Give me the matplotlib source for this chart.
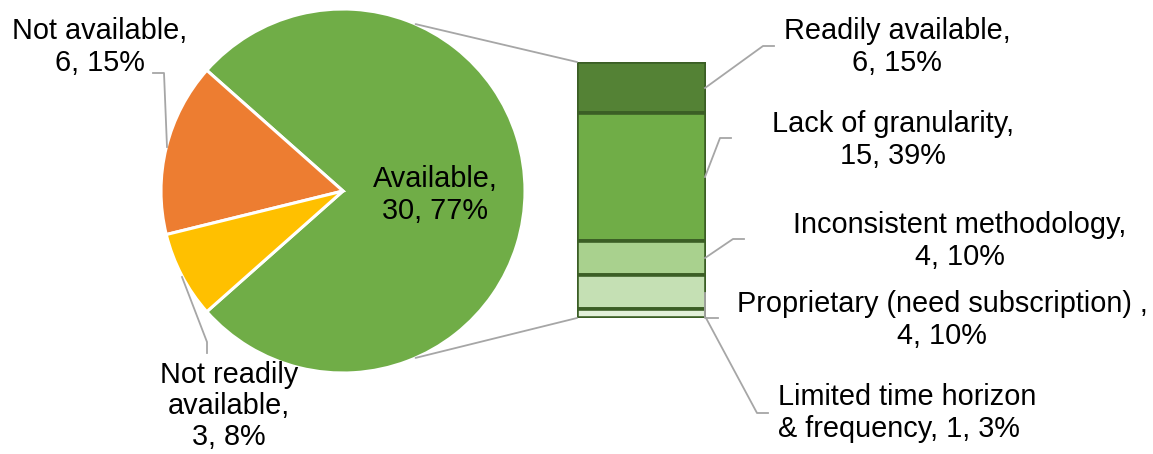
import numpy as np
import matplotlib
matplotlib.use("Agg")
import matplotlib.pyplot as plt
from matplotlib.patches import ConnectionPatch

plt.rcParams['font.family'] = ['Liberation Sans', 'DejaVu Sans']

# ---- data ----
pie_labels = ["Available", "Not available", "Not readily\navailable"]
pie_values = [30, 6, 3]
pie_pct = [77, 15, 8]
pie_colors = ["#70AD47", "#ED7D31", "#FFC000"]

bar_labels = ["Readily available", "Lack of granularity", "Inconsistent methodology",
              "Proprietary (need subscription) ", "Limited time horizon\n& frequency"]
bar_values = [6, 15, 4, 4, 1]
bar_pct = [15, 39, 10, 10, 3]
bar_colors = ["#548235", "#70AD47", "#A9D18E", "#C5E0B4", "#E2F0D9"]

W, H = 1153, 454
fig = plt.figure(figsize=(W / 100, H / 100), dpi=100)

# pie axes
cx, cy, r = 343, 191, 182
pax = fig.add_axes([(cx - r) / W, (H - cy - r) / H, 2 * r / W, 2 * r / H])
total = sum(pie_values)
start = -0.5 * pie_values[0] / total * 360
pax.pie(pie_values, colors=pie_colors, startangle=start, counterclock=True,
        wedgeprops=dict(edgecolor='white', linewidth=2.2))
pax.set_xlim(-1, 1)
pax.set_ylim(-1, 1)
pax.set_aspect('equal')
pax.axis('off')

# bar axes
bx0, bx1, by0, by1 = 577, 706, 62, 318
bax = fig.add_axes([bx0 / W, (H - by1) / H, (bx1 - bx0) / W, (by1 - by0) / H])
bottoms = np.concatenate([[0], np.cumsum(bar_values)[:-1]])
bax.bar([0.5] * len(bar_values), bar_values, bottom=bottoms, width=1.0,
        color=bar_colors, edgecolor='#3B5E25', linewidth=2.6)
bax.set_xlim(0, 1)
bax.set_ylim(sum(bar_values), 0)
bax.axis('off')

# overlay axes in pixel coordinates for labels and leader lines
bg = fig.add_axes([0, 0, 1, 1], zorder=10)
bg.set_xlim(0, W)
bg.set_ylim(H, 0)
bg.patch.set_alpha(0)
bg.axis('off')

# connector lines pie -> bar
ang = np.deg2rad(66.5)
for sgn, yb in [(1, 0), (-1, sum(bar_values))]:
    con = ConnectionPatch(xyA=(np.cos(ang), sgn * np.sin(ang)), coordsA=pax.transData,
                          xyB=(0, yb), coordsB=bax.transData,
                          color='#A6A6A6', linewidth=1.3)
    fig.add_artist(con)

fs = 20.8
lc = '#A6A6A6'
kw = dict(fontsize=fs, linespacing=1.15, va='center')

# pie labels
bg.text(435, 195, f"{pie_labels[0]},\n{pie_values[0]}, {pie_pct[0]}%", ha='center', **kw)
bg.text(100, 47, f"{pie_labels[1]},\n{pie_values[1]}, {pie_pct[1]}%", ha='center', **kw)
bg.text(229, 406, f"{pie_labels[2]},\n{pie_values[2]}, {pie_pct[2]}%", ha='center', **kw)
bg.plot([153, 164, 167], [73, 73, 147], color=lc, lw=1.3)
bg.plot([182, 207, 207], [277, 342, 353], color=lc, lw=1.3)

# bar labels
bg.text(897, 47, f"{bar_labels[0]},\n{bar_values[0]}, {bar_pct[0]}%", ha='center', **kw)
bg.text(893, 140, f"{bar_labels[1]},\n{bar_values[1]}, {bar_pct[1]}%", ha='center', **kw)
bg.text(960, 241, f"{bar_labels[2]},\n{bar_values[2]}, {bar_pct[2]}%", ha='center', **kw)
bg.text(942, 320, f"{bar_labels[3]},\n{bar_values[3]}, {bar_pct[3]}%", ha='center', **kw)
bg.text(778, 413, f"{bar_labels[4]}, {bar_values[4]}, {bar_pct[4]}%", ha='left', **kw)

bg.plot([705, 763, 774], [88, 46, 46], color=lc, lw=1.3)
bg.plot([705, 720, 731], [177, 138, 138], color=lc, lw=1.3)
bg.plot([705, 733, 744], [258, 239, 239], color=lc, lw=1.3)
bg.plot([705, 705, 718], [293, 318, 318], color=lc, lw=1.3)
bg.plot([706, 757, 768], [318, 413, 413], color=lc, lw=1.3)

fig.savefig("out.png", dpi=100, facecolor='white')
